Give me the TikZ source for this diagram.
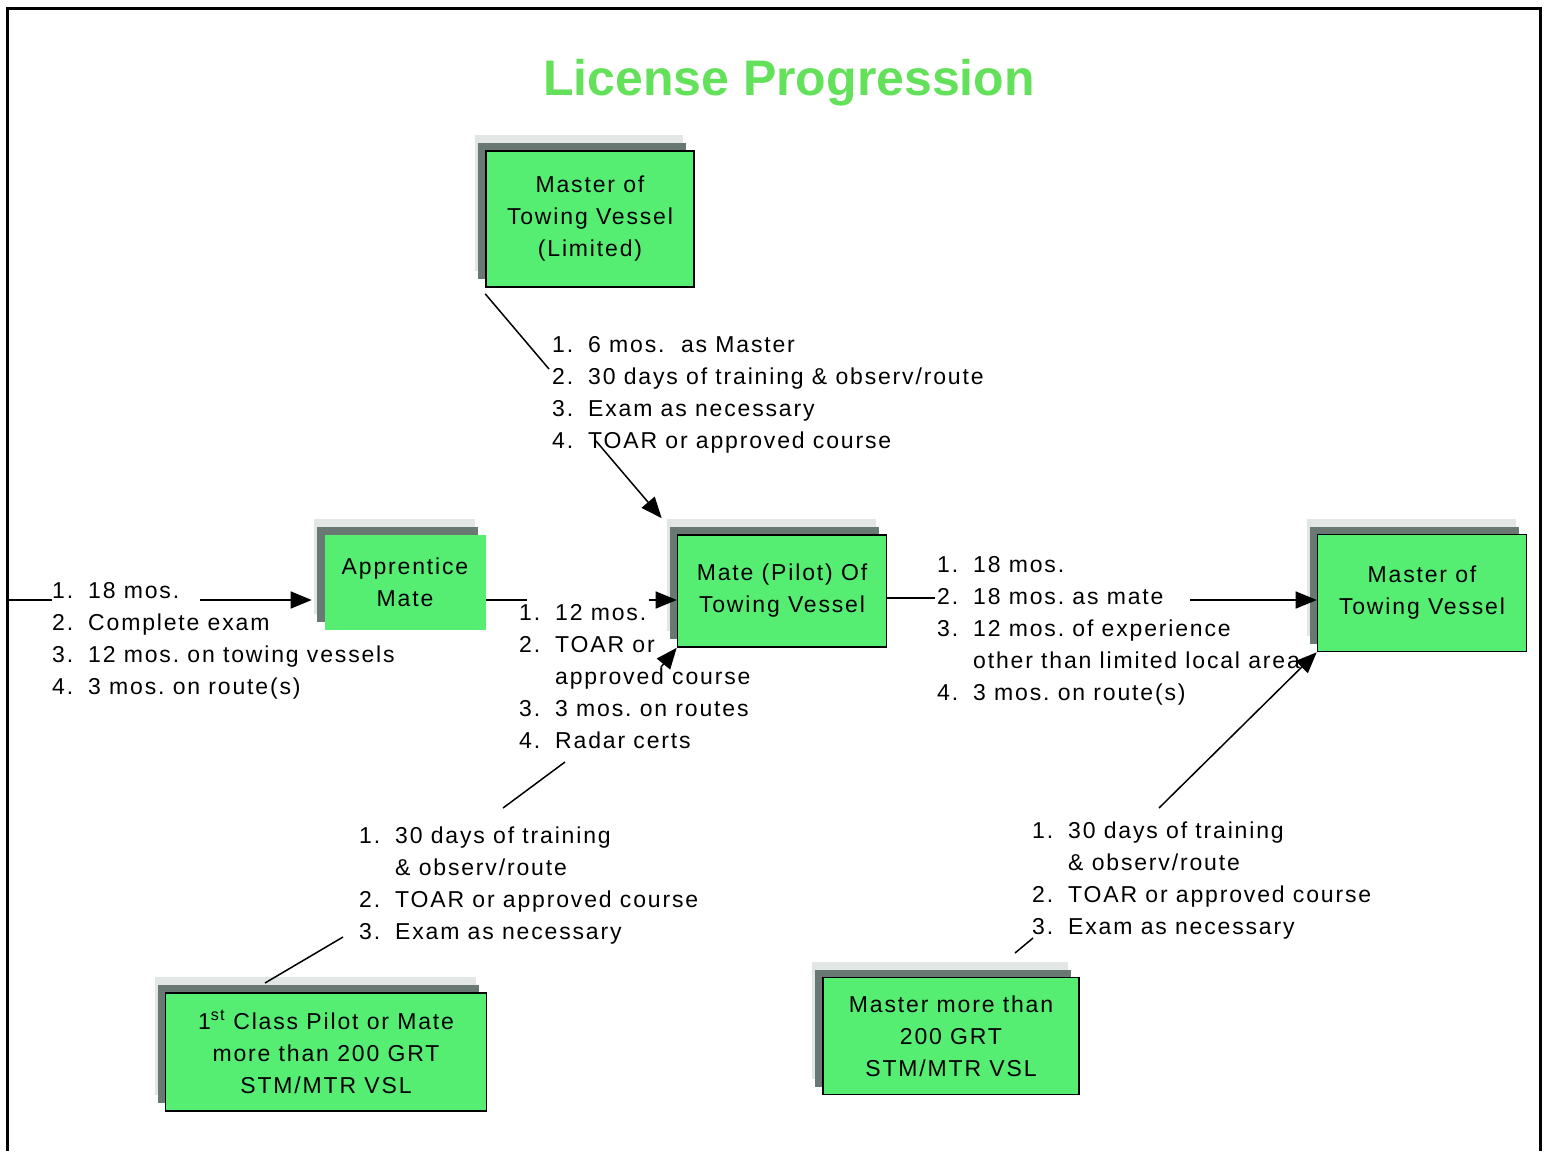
\documentclass[tikz,border=0pt]{standalone}
\usepackage{fontspec}
\setmainfont{Liberation Sans}[LetterSpace=8]
\newfontfamily\titlefont{Liberation Sans}
\usetikzlibrary{arrows.meta, positioning, shadows}

\definecolor{boxgreen}{RGB}{85,238,115}
\definecolor{titlegreen}{RGB}{100,225,90}
\definecolor{shadowgray}{RGB}{105,120,115}
\definecolor{halogray}{RGB}{226,230,228}

\newcommand{\stepno}[1]{\makebox[36pt][l]{#1}}
\frenchspacing

\begin{document}
\begin{tikzpicture}[x=1pt, y=-1pt,
    license/.style={draw, line width=1.6pt, fill=boxgreen, align=center, inner sep=0pt,
      font=\fontsize{23}{32}\selectfont,
      general shadow={fill=halogray, shadow xshift=-11pt, shadow yshift=16pt},
      general shadow={fill=shadowgray, shadow xshift=-8pt, shadow yshift=8pt}},
    req/.style={anchor=base west, inner sep=0pt, font=\fontsize{23}{32}\selectfont},
    link/.style={line width=1.5pt},
    arrowlink/.style={link, -{Triangle[length=21pt, width=17pt]}}]

    \useasboundingbox (0,0) rectangle (1546,1151);

    % Frame and title
    \draw[line width=3pt] (7,1151) -- (7,8) -- (1540,8) -- (1540,1151);
    \node[anchor=base, text=titlegreen, font={\titlefont\bfseries\fontsize{50}{56}\selectfont}] (title) at (789,95) {License Progression};

    % License boxes
    \node[license, minimum width=208pt, minimum height=136pt] (mlim) at (590,219) {Master of\\Towing Vessel\\(Limited)};
    \node[license, draw=none, minimum width=161pt, minimum height=95pt] (appr) at (405,582) {Apprentice\\Mate};
    \node[license, minimum width=209pt, minimum height=112pt] (mate) at (782,591) {Mate (Pilot) Of\\Towing Vessel};
    \node[license, minimum width=209pt, minimum height=117pt] (mtv) at (1422,593) {Master of\\Towing Vessel};
    \node[license, minimum width=321pt, minimum height=118pt] (first) at (326,1052) {1\textsuperscript{st} Class Pilot or Mate\\more than 200 GRT\\STM/MTR VSL};
    \node[license, minimum width=256pt, minimum height=117pt] (mbig) at (951,1036) {Master more than\\200 GRT\\STM/MTR VSL};

    % Requirement lists
    \node[req] (applist) at (52,598) {\begin{tabular}[t]{@{}l@{}}
      \stepno{1.}18 mos.\\
      \stepno{2.}Complete exam\\
      \stepno{3.}12 mos. on towing vessels\\
      \stepno{4.}3 mos. on route(s)
    \end{tabular}};
    \node[req] (toplist) at (552,352) {\begin{tabular}[t]{@{}l@{}}
      \stepno{1.}6 mos.\ \ as Master\\
      \stepno{2.}30 days of training \& observ/route\\
      \stepno{3.}Exam as necessary\\
      \stepno{4.}TOAR or approved course
    \end{tabular}};
    \node[req] (midlist) at (519,620) {\begin{tabular}[t]{@{}l@{}}
      \stepno{1.}12 mos.\\
      \stepno{2.}TOAR or\\
      \stepno{}approved course\\
      \stepno{3.}3 mos. on routes\\
      \stepno{4.}Radar certs
    \end{tabular}};
    \node[req] (rightlist) at (937,572) {\begin{tabular}[t]{@{}l@{}}
      \stepno{1.}18 mos.\\
      \stepno{2.}18 mos. as mate\\
      \stepno{3.}12 mos. of experience\\
      \stepno{}other than limited local area\\
      \stepno{4.}3 mos. on route(s)
    \end{tabular}};
    \node[req] (lowleft) at (359,843) {\begin{tabular}[t]{@{}l@{}}
      \stepno{1.}30 days of training\\
      \stepno{}\& observ/route\\
      \stepno{2.}TOAR or approved course\\
      \stepno{3.}Exam as necessary
    \end{tabular}};
    \node[req] (lowright) at (1032,838) {\begin{tabular}[t]{@{}l@{}}
      \stepno{1.}30 days of training\\
      \stepno{}\& observ/route\\
      \stepno{2.}TOAR or approved course\\
      \stepno{3.}Exam as necessary
    \end{tabular}};

    % Left side into Apprentice Mate
    \coordinate (edge) at (7,600);
    \coordinate (applist-in) at (52,600);
    \draw[link] (edge) -- (applist-in);
    \coordinate (applist-out) at (200,600);
    \draw[arrowlink, shorten >=12pt] (applist-out) -- (applist-out -| appr.west);

    % Apprentice Mate to Mate (Pilot)
    \coordinate (midlist-in) at (527,600);
    \draw[link] (appr.east |- midlist-in) -- (midlist-in);
    \coordinate (midlist-out) at (649,600);
    \draw[arrowlink] (midlist-out) -- (midlist-out -| mate.west);

    % Master (Limited) down to Mate (Pilot)
    \coordinate (toplist-in) at (549,369);
    \draw[link] ([yshift=-6pt]mlim.south west) -- (toplist-in);
    \coordinate (toplist-out) at (596,441);
    \draw[arrowlink] (toplist-out) -- ([shift={(-15pt,16pt)}]mate.north west);

    % Mate (Pilot) to Master
    \coordinate (rightlist-in) at (935,598);
    \draw[link] (mate.east |- rightlist-in) -- (rightlist-in);
    \coordinate (rightlist-out) at (1190,600);
    \draw[arrowlink] (rightlist-out) -- (rightlist-out -| mtv.west);

    % Master more than 200 GRT up to Master
    \coordinate (mbig-out) at (1015,953);
    \coordinate (lowright-in) at (1033,938);
    \draw[link] (mbig-out) -- (lowright-in);
    \coordinate (lowright-out) at (1159,808);
    \draw[arrowlink] (lowright-out) -- (mtv.south west);

    % 1st Class up to Mate (Pilot)
    \coordinate (first-out) at (265,983);
    \coordinate (lowleft-in) at (343,937);
    \draw[link] (first-out) -- (lowleft-in);
    \coordinate (lowleft-out) at (503,808);
    \coordinate (midlist-under) at (565,762);
    \draw[link] (lowleft-out) -- (midlist-under);
    \coordinate (midlist-up) at (661,667);
    \draw[arrowlink] (midlist-up) -- (mate.south west);
\end{tikzpicture}
\end{document}
